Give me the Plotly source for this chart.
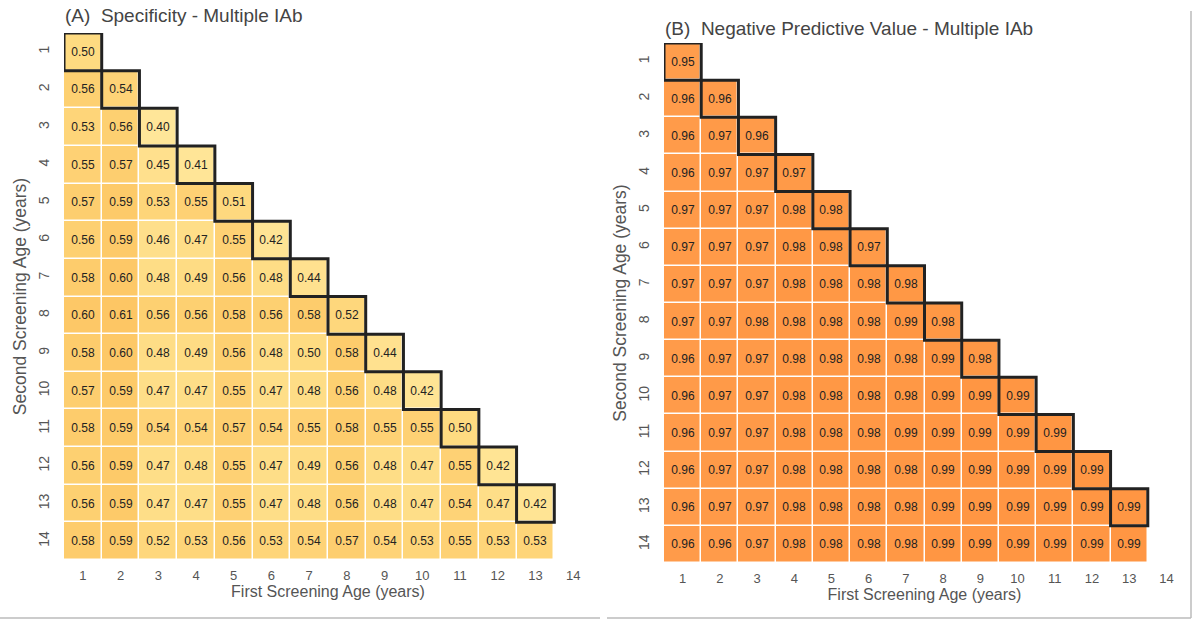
import plotly.graph_objects as go

ages_first = list(range(1, 14))
ages_second = list(range(1, 15))
tick_vals = list(range(1, 15))

spec_rows = [
    [0.50],
    [0.56, 0.54],
    [0.53, 0.56, 0.40],
    [0.55, 0.57, 0.45, 0.41],
    [0.57, 0.59, 0.53, 0.55, 0.51],
    [0.56, 0.59, 0.46, 0.47, 0.55, 0.42],
    [0.58, 0.60, 0.48, 0.49, 0.56, 0.48, 0.44],
    [0.60, 0.61, 0.56, 0.56, 0.58, 0.56, 0.58, 0.52],
    [0.58, 0.60, 0.48, 0.49, 0.56, 0.48, 0.50, 0.58, 0.44],
    [0.57, 0.59, 0.47, 0.47, 0.55, 0.47, 0.48, 0.56, 0.48, 0.42],
    [0.58, 0.59, 0.54, 0.54, 0.57, 0.54, 0.55, 0.58, 0.55, 0.55, 0.50],
    [0.56, 0.59, 0.47, 0.48, 0.55, 0.47, 0.49, 0.56, 0.48, 0.47, 0.55, 0.42],
    [0.56, 0.59, 0.47, 0.47, 0.55, 0.47, 0.48, 0.56, 0.48, 0.47, 0.54, 0.47, 0.42],
    [0.58, 0.59, 0.52, 0.53, 0.56, 0.53, 0.54, 0.57, 0.54, 0.53, 0.55, 0.53, 0.53],
]

npv_rows = [
    [0.95],
    [0.96, 0.96],
    [0.96, 0.97, 0.96],
    [0.96, 0.97, 0.97, 0.97],
    [0.97, 0.97, 0.97, 0.98, 0.98],
    [0.97, 0.97, 0.97, 0.98, 0.98, 0.97],
    [0.97, 0.97, 0.97, 0.98, 0.98, 0.98, 0.98],
    [0.97, 0.97, 0.98, 0.98, 0.98, 0.98, 0.99, 0.98],
    [0.96, 0.97, 0.97, 0.98, 0.98, 0.98, 0.98, 0.99, 0.98],
    [0.96, 0.97, 0.97, 0.98, 0.98, 0.98, 0.98, 0.99, 0.99, 0.99],
    [0.96, 0.97, 0.97, 0.98, 0.98, 0.98, 0.99, 0.99, 0.99, 0.99, 0.99],
    [0.96, 0.97, 0.97, 0.98, 0.98, 0.98, 0.98, 0.99, 0.99, 0.99, 0.99, 0.99],
    [0.96, 0.97, 0.97, 0.98, 0.98, 0.98, 0.98, 0.99, 0.99, 0.99, 0.99, 0.99, 0.99],
    [0.96, 0.96, 0.97, 0.98, 0.98, 0.98, 0.98, 0.99, 0.99, 0.99, 0.99, 0.99, 0.99],
]

title_a = "(A)  Specificity - Multiple IAb"
title_b = "(B)  Negative Predictive Value - Multiple IAb"
x_title = "First Screening Age (years)"
y_title = "Second Screening Age (years)"

FONT = "Liberation Sans Narrow, Arial Narrow, Liberation Sans, Arial, sans-serif"
W, H = 1193, 623


def pad(rows):
    z, t = [], []
    for r in rows:
        zz = list(r) + [None] * (len(ages_first) - len(r))
        z.append(zz)
        t.append([f"{v:.2f}" if v is not None else "" for v in zz])
    return z, t


za, ta = pad(spec_rows)
zb, tb = pad(npv_rows)

fig = go.Figure()
fig.add_trace(go.Heatmap(
    x=ages_first, y=ages_second, z=za, text=ta, texttemplate="%{text}",
    textfont=dict(family=FONT, size=12, color="#222222"),
    colorscale=[[0, "#FFE699"], [0.5, "#FEDA80"], [1, "#FDC664"]],
    zmin=0.40, zmax=0.61, showscale=False, xgap=1.5, ygap=1.5,
    hoverongaps=False, xaxis="x", yaxis="y"))
fig.add_trace(go.Heatmap(
    x=ages_first, y=ages_second, z=zb, text=tb, texttemplate="%{text}",
    textfont=dict(family=FONT, size=12, color="#222222"),
    colorscale=[[0, "#FF9D4C"], [1, "#FF9643"]],
    zmin=0.95, zmax=0.99, showscale=False, xgap=1.5, ygap=1.5,
    hoverongaps=False, xaxis="x2", yaxis="y2"))

dom_xa = [64 / W, 592 / W]
dom_ya = [1 - 560 / H, 1 - 33 / H]
dom_xb = [664 / W, 1185 / W]
dom_yb = [1 - 563 / H, 1 - 43 / H]

axis_common = dict(showgrid=False, zeroline=False, showline=False, ticks="",
                   tickmode="array", tickvals=tick_vals,
                   ticktext=[str(v) for v in tick_vals])

xa = dict(axis_common, range=[0.5, 14.5], ticklabelstandoff=6,
          tickfont=dict(family=FONT, size=13, color="#555555"),
          title=dict(text=x_title, font=dict(family=FONT, size=16, color="#555555"), standoff=3))
ya = dict(axis_common, range=[14.5, 0.5], tickangle=-90, ticklabelstandoff=11,
          tickfont=dict(family=FONT, size=14, color="#555555"),
          title=dict(text=y_title, font=dict(family=FONT, size=17.5, color="#555555"), standoff=5))

fig.update_layout(
    width=W, height=H, margin=dict(l=0, r=0, t=0, b=0),
    paper_bgcolor="white", plot_bgcolor="white",
    xaxis=dict(xa, domain=dom_xa, anchor="y"),
    yaxis=dict(ya, domain=dom_ya, anchor="x"),
    xaxis2=dict(xa, domain=dom_xb, anchor="y2"),
    yaxis2=dict(ya, domain=dom_yb, anchor="x2"),
)

shapes = []
for i in ages_first:
    for xr, yr in (("x", "y"), ("x2", "y2")):
        shapes.append(dict(type="rect", xref=xr, yref=yr,
                           x0=i - 0.5, x1=i + 0.5, y0=i - 0.5, y1=i + 0.5,
                           line=dict(color="#222222", width=3), layer="above"))
# frame lines
shapes.append(dict(type="line", xref="paper", yref="paper", x0=0, x1=600 / W,
                   y0=1 - 618 / H, y1=1 - 618 / H, line=dict(color="#bbbbbb", width=1.5)))
shapes.append(dict(type="line", xref="paper", yref="paper", x0=607 / W, x1=1191 / W,
                   y0=1 - 618 / H, y1=1 - 618 / H, line=dict(color="#bbbbbb", width=1.5)))
shapes.append(dict(type="line", xref="paper", yref="paper", x0=1191 / W, x1=1191 / W,
                   y0=1 - 618 / H, y1=1 - 11 / H, line=dict(color="#bbbbbb", width=1.5)))
fig.update_layout(shapes=shapes)

fig.add_annotation(text=title_a, xref="paper", yref="paper", x=63 / W, y=1 - 15 / H,
                   xanchor="left", yanchor="middle", showarrow=False,
                   font=dict(family=FONT, size=19, color="#444444"))
fig.add_annotation(text=title_b, xref="paper", yref="paper", x=663 / W, y=1 - 28 / H,
                   xanchor="left", yanchor="middle", showarrow=False,
                   font=dict(family=FONT, size=19, color="#444444"))

fig.write_html("out.html")
